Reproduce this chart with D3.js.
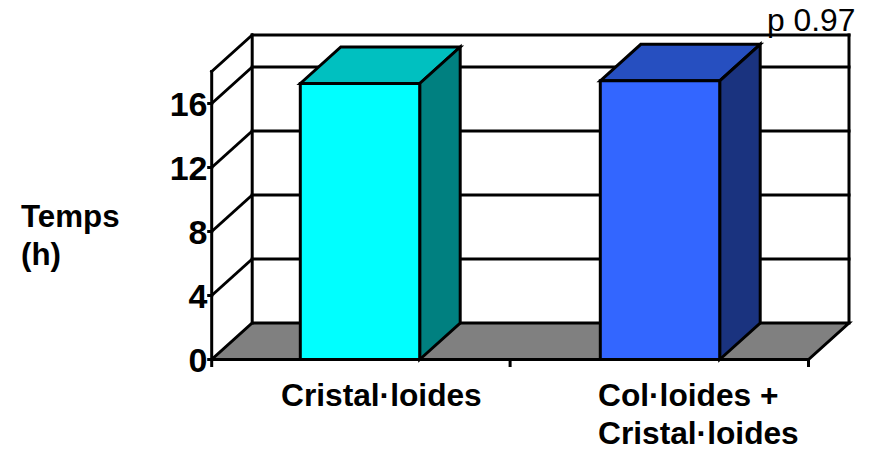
<!DOCTYPE html>
<html>
<head>
<meta charset="utf-8">
<script src="https://cdn.jsdelivr.net/npm/d3@7"></script>
<style>
html,body{margin:0;padding:0;background:#fff;}
svg{display:block;}
text{font-family:"Liberation Sans",Arial,sans-serif;fill:#000;}
</style>
</head>
<body>
<svg id="chart" width="870" height="450"></svg>
<script>
const categories = ["Cristal·loides", "Col·loides +|Cristal·loides"];
const values = [17.25, 17.42];
const frontColors = ["#00ffff", "#3366ff"];
const topColors = ["#00c0c0", "#264fc0"];
const sideColors = ["#008080", "#1a337f"];
const yTicks = [0, 4, 8, 12, 16];
const yMax = 18;
const yTitle = ["Temps", "(h)"];
const note = "p 0.97";

const dx = 40.5, dy = -36.5, sw = 3;
const x0 = 211.7, x1 = 808.5, y0 = 359.5;
const y = d3.scaleLinear().domain([0, yMax]).range([y0, 71.5]);
const xBand = d3.scaleBand().domain(categories).range([210, 810]);
const xTick = d3.scaleLinear().domain([0, categories.length]).range([x0, x1]);
const barW = xBand.bandwidth() * 0.398;

const svg = d3.select("#chart");
const line = (g, a, b, c, d, w) => g.append("line")
  .attr("x1", a).attr("y1", b).attr("x2", c).attr("y2", d)
  .attr("stroke", "#000").attr("stroke-width", w || sw).attr("stroke-linecap", "square");
const poly = (g, pts, fill) => g.append("polygon")
  .attr("points", pts.map(p => p.join(",")).join(" "))
  .attr("fill", fill).attr("stroke", "#000").attr("stroke-width", sw).attr("stroke-linejoin", "miter");

// floor
const frame = svg.append("g");
poly(frame, [[x0, y0], [x1, y0], [x1 + dx, y0 + dy], [x0 + dx, y0 + dy]], "#808080");

// walls
line(frame, x0 + dx, y0 + dy, x0 + dx, y(yMax) + dy);
line(frame, x0, y0, x0, y(yMax));
line(frame, x0, y(yMax), x0 + dx, y(yMax) + dy);
line(frame, x0 + dx, y(yMax) + dy, x1 + dx, y(yMax) + dy);
line(frame, x1 + dx, y(yMax) + dy, x1 + dx, y0 + dy);

// gridlines
yTicks.filter(t => t > 0).forEach(t => {
  line(frame, x0, y(t), x0 + dx, y(t) + dy);
  line(frame, x0 + dx, y(t) + dy, x1 + dx, y(t) + dy);
});

// axis ticks
yTicks.forEach(t => line(frame, x0 - 3, y(t), x0, y(t)));
d3.range(categories.length + 1).forEach(i => line(frame, xTick(i), y0, xTick(i), y0 + 6));

// y tick labels
svg.append("g").selectAll("text").data(yTicks).join("text")
  .attr("x", 207.5).attr("y", d => y(d) + 12.5)
  .attr("text-anchor", "end")
  .attr("font-size", 34).attr("font-weight", "bold")
  .text(d => d);

// bars
const bars = svg.append("g").selectAll("g").data(categories).join("g");
bars.each(function (c, i) {
  const g = d3.select(this);
  const l = xBand(c) + (xBand.bandwidth() - barW) / 2, r = l + barW, t = y(values[i]);
  poly(g, [[l, t], [l + dx, t + dy], [r + dx, t + dy], [r, t]], topColors[i]);
  poly(g, [[r, t], [r + dx, t + dy], [r + dx, y0 + dy], [r, y0]], sideColors[i]);
  poly(g, [[l, t], [r, t], [r, y0], [l, y0]], frontColors[i]);
});

// category labels
const labelX = [281, 598];
svg.append("g").selectAll("text").data(categories).join("text")
  .attr("font-size", 31.7).attr("font-weight", "bold")
  .each(function (c, i) {
    const s = d3.select(this);
    c.split("|").forEach((part, k) => {
      s.append("tspan").attr("x", labelX[i]).attr("y", 406 + k * 38).text(part);
    });
  });

// y title
svg.append("g").selectAll("text").data(yTitle).join("text")
  .attr("x", 21).attr("y", (d, i) => 227 + i * 38)
  .attr("font-size", 31.3).attr("font-weight", "bold")
  .text(d => d);

// note
svg.append("text").attr("x", 767).attr("y", 31)
  .attr("font-size", 31.8).text(note);
</script>
</body>
</html>
